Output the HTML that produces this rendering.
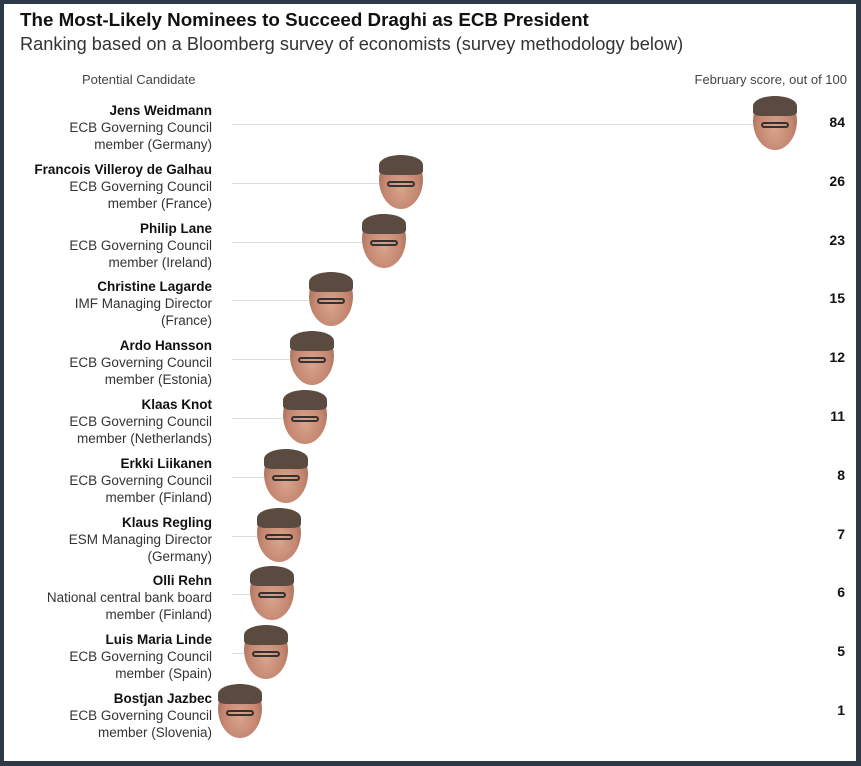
<!DOCTYPE html>
<html><head><style>
body{margin:0;width:861px;height:766px;background:#2d3947;font-family:"Liberation Sans",sans-serif;overflow:hidden}
#f{position:absolute;left:4px;top:4px;width:852px;height:757px;background:#fff}
.t{position:absolute;white-space:nowrap;color:#222}
.lab{position:absolute;right:644px;text-align:right;font-size:13.5px;line-height:17px;color:#333;white-space:nowrap}
.lab b{color:#111}
.v{position:absolute;right:11px;font-size:14px;font-weight:bold;color:#111}
.ln{position:absolute;left:228px;height:1px;background:#ddd}
.fc{position:absolute;width:44px;height:54px;border-radius:48% 48% 50% 50%/45% 45% 55% 55%;background:radial-gradient(ellipse at 50% 60%,#d9a48c 0,#c48670 55%,#8a5a4a 100%)}
.fc:before{content:"";position:absolute;left:0;top:0;width:44px;height:20px;border-radius:50% 50% 20% 20%;background:#5a4a40}
.fc:after{content:"";position:absolute;left:8px;top:26px;width:28px;height:6px;border:2px solid #333;border-radius:3px;box-sizing:border-box}
</style></head><body><div id="f">
<div class="t" style="left:16px;top:5px;font-size:18.8px;font-weight:bold;color:#111">The Most-Likely Nominees to Succeed Draghi as ECB President</div>
<div class="t" style="left:16px;top:30px;font-size:18.2px;color:#333">Ranking based on a Bloomberg survey of economists (survey methodology below)</div>
<div class="t" style="left:78px;top:68px;font-size:13px;color:#444">Potential Candidate</div>
<div class="t" style="right:9px;top:68px;font-size:13px;color:#444">February score, out of 100</div>
<div id="rows"></div>
</div>
<script>
var d=[["Jens Weidmann","ECB Governing Council","member (Germany)",84,775],
["Francois Villeroy de Galhau","ECB Governing Council","member (France)",26,401],
["Philip Lane","ECB Governing Council","member (Ireland)",23,384],
["Christine Lagarde","IMF Managing Director","(France)",15,331],
["Ardo Hansson","ECB Governing Council","member (Estonia)",12,312],
["Klaas Knot","ECB Governing Council","member (Netherlands)",11,305],
["Erkki Liikanen","ECB Governing Council","member (Finland)",8,286],
["Klaus Regling","ESM Managing Director","(Germany)",7,279],
["Olli Rehn","National central bank board","member (Finland)",6,272],
["Luis Maria Linde","ECB Governing Council","member (Spain)",5,266],
["Bostjan Jazbec","ECB Governing Council","member (Slovenia)",1,240]];
var h="";d.forEach(function(r,i){var y=98+i*58.8;
h+='<div class="lab" style="top:'+y+'px"><b>'+r[0]+'</b><br>'+r[1]+'<br>'+r[2]+'</div>';
h+='<div class="ln" style="top:'+(y+22)+'px;width:'+(r[4]-4-250)+'px"></div>';
h+='<div class="fc" style="left:'+(r[4]-4-22)+'px;top:'+(y-6)+'px"></div>';
h+='<div class="v" style="top:'+(y+12)+'px">'+r[3]+'</div>';});
document.getElementById("rows").innerHTML=h;
</script>
</body></html>
